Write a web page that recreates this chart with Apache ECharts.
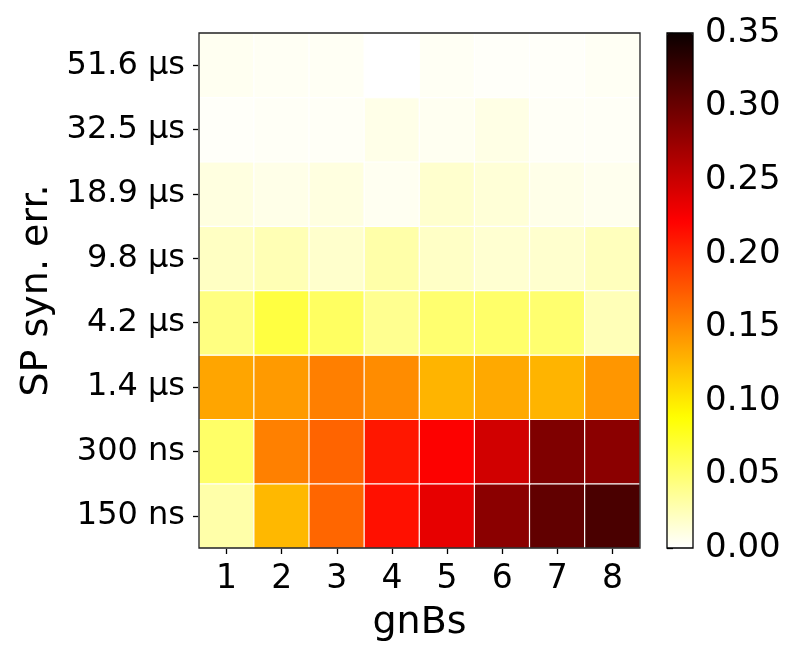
<!DOCTYPE html>
<html>
<head>
<meta charset="utf-8">
<script src="https://cdn.jsdelivr.net/npm/echarts@6/dist/echarts.min.js"></script>
<style>html,body{margin:0;padding:0;background:#fff;}#c{width:793px;height:661px;}</style>
</head>
<body>
<div id="c"></div>
<script>
// ---- data ----
const gnbs = ['1', '2', '3', '4', '5', '6', '7', '8'];
const synErrLabels = ['150 ns', '300 ns', '1.4 µs', '4.2 µs', '9.8 µs', '18.9 µs', '32.5 µs', '51.6 µs'];
const row150ns  = [0.030, 0.126, 0.169, 0.214, 0.235, 0.283, 0.305, 0.317];
const row300ns  = [0.053, 0.155, 0.170, 0.210, 0.223, 0.246, 0.289, 0.283];
const row1_4us  = [0.136, 0.142, 0.156, 0.149, 0.128, 0.134, 0.128, 0.144];
const row4_2us  = [0.044, 0.066, 0.055, 0.039, 0.050, 0.052, 0.050, 0.025];
const row9_8us  = [0.021, 0.026, 0.018, 0.030, 0.020, 0.016, 0.017, 0.023];
const row18_9us = [0.011, 0.008, 0.011, 0.005, 0.017, 0.014, 0.008, 0.006];
const row32_5us = [0.002, 0.003, 0.003, 0.008, 0.005, 0.009, 0.003, 0.003];
const row51_6us = [0.005, 0.004, 0.004, 0.000, 0.004, 0.002, 0.002, 0.004];
const colorbarTicks = [0, 0.05, 0.10, 0.15, 0.20, 0.25, 0.30, 0.35];
const vMin = 0, vMax = 0.35;

const rows = [row150ns, row300ns, row1_4us, row4_2us, row9_8us, row18_9us, row32_5us, row51_6us];
const cells = [];
rows.forEach((r, yi) => r.forEach((v, xi) => cells.push([xi, yi, v])));

// matplotlib 'hot_r' colormap stops
function hot(s) {
  const r = Math.min(1, 0.0416 + (1 - 0.0416) * s / 0.365079);
  const g = Math.max(0, Math.min(1, (s - 0.365079) / (0.746032 - 0.365079)));
  const b = Math.max(0, Math.min(1, (s - 0.746032) / (1 - 0.746032)));
  const h = x => Math.round(x * 255).toString(16).padStart(2, '0');
  return '#' + h(r) + h(g) + h(b);
}
const stops = [];
const N = 100;
for (let i = 0; i <= N; i++) stops.push(hot(1 - i / N));

const FONT = 'DejaVu Sans';
const chart = echarts.init(document.getElementById('c'), null, {renderer: 'canvas'});
chart.setOption({
  animation: false,
  backgroundColor: '#fff',
  textStyle: {fontFamily: FONT, color: '#000'},
  grid: [
    {left: 199, top: 33, width: 441, height: 515, show: true, borderColor: '#222', borderWidth: 1.3, backgroundColor: 'transparent', z: 10},
    {left: 667, top: 33, width: 26, height: 515, show: true, borderColor: '#000', borderWidth: 1.3, backgroundColor: 'transparent', z: 10}
  ],
  xAxis: [
    {
      type: 'category', data: gnbs, gridIndex: 0,
      name: 'gnBs', nameLocation: 'middle', nameGap: 56,
      nameTextStyle: {fontFamily: FONT, fontSize: 38, color: '#000'},
      axisLine: {show: false},
      axisTick: {show: true, alignWithLabel: true, length: 6, lineStyle: {color: '#000', width: 1.3}},
      axisLabel: {fontFamily: FONT, fontSize: 33, color: '#000', margin: 15},
      splitLine: {show: false}
    },
    {type: 'value', gridIndex: 1, show: false, min: 0, max: 1}
  ],
  yAxis: [
    {
      type: 'category', data: synErrLabels, gridIndex: 0,
      name: 'SP syn. err.', nameLocation: 'middle', nameGap: 142,
      nameTextStyle: {fontFamily: FONT, fontSize: 38, color: '#000'},
      axisLine: {show: false},
      axisTick: {show: true, alignWithLabel: true, length: 6, lineStyle: {color: '#000', width: 1.3}},
      axisLabel: {fontFamily: FONT, fontSize: 32, color: '#000', margin: 14, padding: [4, 0, 0, 0]},
      splitLine: {show: false}
    },
    {
      type: 'value', gridIndex: 1, position: 'right', min: colorbarTicks[0], max: colorbarTicks[colorbarTicks.length - 1], interval: 0.05,
      axisLine: {show: false},
      axisTick: {show: true, length: 6, lineStyle: {color: '#000', width: 1.3}},
      axisLabel: {fontFamily: FONT, fontSize: 34, color: '#000', margin: 12, padding: [4, 0, 0, 0], formatter: v => v.toFixed(2)},
      splitLine: {show: false}
    }
  ],
  visualMap: {
    type: 'continuous', min: vMin, max: vMax, seriesIndex: 0,
    orient: 'vertical', left: 667, top: 33, itemWidth: 26, itemHeight: 515,
    padding: 0, calculable: false, showLabel: false, text: null, hoverLink: false,
    inRange: {color: stops}
  },
  series: [{
    type: 'heatmap', xAxisIndex: 0, yAxisIndex: 0, data: cells,
    itemStyle: {borderColor: '#fff', borderWidth: 1.2},
    emphasis: {disabled: true}
  }]
});
</script>
</body>
</html>
